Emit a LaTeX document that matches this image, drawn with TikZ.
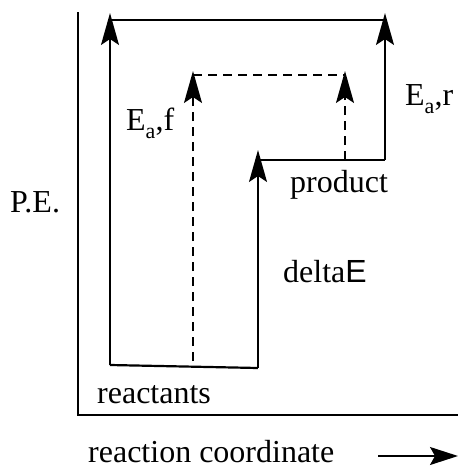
\documentclass[tikz,border=0pt]{standalone}
\usepackage{fontspec}
\setmainfont{Liberation Serif}
\newfontfamily\sansE{Liberation Sans}
\usetikzlibrary{arrows.meta}
\begin{document}
\begin{tikzpicture}[x=1pt,y=-1pt,
  lbl/.style={anchor=base west,inner sep=0pt,font=\fontsize{32}{36}\selectfont},
  axisline/.style={line width=2.2pt},
  level/.style={line width=2.2pt},
  shaft/.style={line width=1.6pt,-{Stealth[length=32pt,width=18pt,inset=6pt]}},
  dshaft/.style={line width=1.6pt,dash pattern=on 9pt off 6pt,-{Stealth[length=32pt,width=18pt,inset=6pt]}},
  dline/.style={line width=1.6pt,dash pattern=on 9pt off 6pt},
  axarrow/.style={line width=1.6pt,-{Stealth[length=28pt,width=18pt,inset=5pt]}}]
\useasboundingbox (0,0) rectangle (462,469);
% coordinates
\coordinate (axtop) at (78,12);
\coordinate (origin) at (78,415);
\coordinate (axright) at (458,415);
\coordinate (r1) at (110,365);
\coordinate (r2) at (258,368);
\coordinate (t1) at (110,20);
\coordinate (t1tip) at (110,13);
\coordinate (t2) at (385,20);
\coordinate (t2tip) at (385,13);
\coordinate (p1) at (258,160);
\coordinate (p1tip) at (258,150);
\coordinate (p2) at (385,160);
\coordinate (d1) at (193,361);
\coordinate (d1top) at (193,75);
\coordinate (d1tip) at (193,71);
\coordinate (d2) at (345,160);
\coordinate (d2top) at (345,75);
\coordinate (d2tip) at (345,71);
\coordinate (ra1) at (378,456);
\coordinate (ra2) at (458,456);
% axes
\draw[axisline] (axtop) -- (origin) -- (axright);
% levels
\draw[level] (r1) -- (r2);
\draw[level] (t1) -- (t2);
\draw[level] (p1) -- (p2);
% arrows
\draw[shaft] (r1) -- (t1tip);
\draw[shaft] (p2) -- (t2tip);
\draw[shaft] (r2) -- (p1tip);
\draw[dshaft] (d1) -- (d1tip);
\draw[dline] (d1top) -- (d2top);
\draw[dshaft] (d2) -- (d2tip);
\draw[axarrow] (ra1) -- (ra2);
% labels
\node[lbl] (pe) at (10,212) {P.E.};
\node[lbl] (react) at (97,403) {reactants};
\node[lbl] (prod) at (290,192) {product};
\node[lbl] (delta) at (283,282) {delta{\sansE E}};
\node[lbl] (eaf) at (126,130) {E\raisebox{-0.28em}{\fontsize{22}{22}\selectfont a},f};
\node[lbl] (ear) at (405,105) {E\raisebox{-0.28em}{\fontsize{22}{22}\selectfont a},r};
\node[lbl] (rc) at (88,462) {reaction coordinate};
\end{tikzpicture}
\end{document}
